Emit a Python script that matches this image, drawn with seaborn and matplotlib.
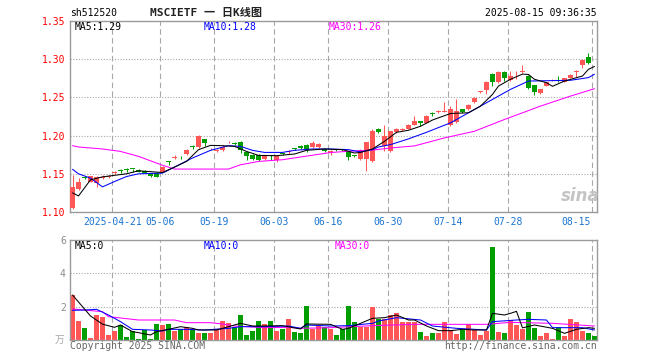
import numpy as np
import pandas as pd
import matplotlib
matplotlib.use('Agg')
import matplotlib.pyplot as plt
import matplotlib.transforms as mtransforms
import seaborn as sns

# ---------------- data ----------------
opens = [1.1057, 1.1299, 1.1455, 1.1399, 1.1382, 1.1441, 1.1458, 1.1512, 1.1545, 1.1558,
         1.1568, 1.1553, 1.1539, 1.1509, 1.1517, 1.1526, 1.1662, 1.1712, 1.1712, 1.1763,
         1.1858, 1.1846, 1.1954, 1.1820, 1.1800, 1.1807, 1.1913, 1.1904, 1.1921, 1.1786,
         1.1750, 1.1750, 1.1693, 1.1740, 1.1684, 1.1772, 1.1789, 1.1832, 1.1868, 1.1882,
         1.1849, 1.1855, 1.1829, 1.1770, 1.1818, 1.1818, 1.1793, 1.1740, 1.1691, 1.1697,
         1.1671, 1.2092, 1.1859, 1.1793, 1.2043, 1.2075, 1.2088, 1.2145, 1.2188, 1.2167,
         1.2288, 1.2316, 1.2316, 1.2145, 1.2180, 1.2342, 1.2351, 1.2443, 1.2570, 1.2596,
         1.2803, 1.2697, 1.2833, 1.2724, 1.2830, 1.2836, 1.2786, 1.2658, 1.2562, 1.2654,
         1.2724, 1.2783, 1.2704, 1.2754, 1.2834, 1.2921, 1.3030, 1.2950]
closes = [1.1333, 1.1399, 1.1448, 1.1467, 1.1454, 1.1464, 1.1466, 1.1520, 1.1538, 1.1550,
          1.1562, 1.1530, 1.1517, 1.1474, 1.1464, 1.1592, 1.1655, 1.1720, 1.1705, 1.1816,
          1.1850, 1.1991, 1.1908, 1.1828, 1.1808, 1.1855, 1.1920, 1.1886, 1.1816, 1.1728,
          1.1697, 1.1684, 1.1741, 1.1733, 1.1733, 1.1766, 1.1796, 1.1825, 1.1838, 1.1816,
          1.1901, 1.1888, 1.1803, 1.1796, 1.1812, 1.1812, 1.1724, 1.1733, 1.1816, 1.1917,
          1.2066, 1.2049, 1.2000, 1.2057, 1.2092, 1.2082, 1.2145, 1.2188, 1.2167, 1.2254,
          1.2282, 1.2323, 1.2323, 1.2351, 1.2320, 1.2307, 1.2399, 1.2496, 1.2578, 1.2707,
          1.2697, 1.2833, 1.2750, 1.2783, 1.2838, 1.2842, 1.2618, 1.2570, 1.2605, 1.2697,
          1.2730, 1.2776, 1.2754, 1.2796, 1.2840, 1.2993, 1.2947, 1.2947]
highs = [1.1487, 1.1447, 1.1465, 1.1475, 1.1467, 1.1480, 1.1480, 1.1540, 1.1565, 1.1580,
         1.1568, 1.1560, 1.1550, 1.1510, 1.1520, 1.1600, 1.1662, 1.1740, 1.1730, 1.1825,
         1.1880, 1.2013, 1.1960, 1.1835, 1.1820, 1.1880, 1.1935, 1.1910, 1.1930, 1.1790,
         1.1760, 1.1755, 1.1750, 1.1750, 1.1745, 1.1772, 1.1815, 1.1840, 1.1880, 1.1890,
         1.1925, 1.1905, 1.1840, 1.1810, 1.1830, 1.1825, 1.1800, 1.1750, 1.1820, 1.1920,
         1.2092, 1.2105, 1.2145, 1.2065, 1.2100, 1.2095, 1.2150, 1.2263, 1.2190, 1.2267,
         1.2312, 1.2335, 1.2443, 1.2386, 1.2483, 1.2350, 1.2410, 1.2509, 1.2590, 1.2715,
         1.2815, 1.2840, 1.2840, 1.2846, 1.2850, 1.2921, 1.2795, 1.2665, 1.2610, 1.2705,
         1.2740, 1.2783, 1.2760, 1.2800, 1.2855, 1.3000, 1.3086, 1.2950]
lows = [1.1039, 1.1289, 1.1435, 1.1390, 1.1333, 1.1430, 1.1450, 1.1500, 1.1510, 1.1520,
        1.1520, 1.1520, 1.1510, 1.1460, 1.1455, 1.1520, 1.1610, 1.1690, 1.1690, 1.1750,
        1.1820, 1.1840, 1.1868, 1.1815, 1.1785, 1.1795, 1.1900, 1.1880, 1.1776, 1.1680,
        1.1680, 1.1670, 1.1680, 1.1675, 1.1660, 1.1750, 1.1765, 1.1810, 1.1820, 1.1785,
        1.1840, 1.1840, 1.1790, 1.1750, 1.1800, 1.1800, 1.1675, 1.1720, 1.1680, 1.1539,
        1.1658, 1.2030, 1.1793, 1.1780, 1.2035, 1.2065, 1.2080, 1.2140, 1.2132, 1.2160,
        1.2254, 1.2300, 1.2310, 1.2132, 1.2170, 1.2290, 1.2340, 1.2430, 1.2555, 1.2539,
        1.2649, 1.2690, 1.2714, 1.2720, 1.2737, 1.2820, 1.2605, 1.2526, 1.2539, 1.2645,
        1.2715, 1.2697, 1.2700, 1.2750, 1.2763, 1.2891, 1.2940, 1.2947]
volumes = [2.7, 1.16, 0.74, 0.14, 1.5, 1.4, 0.3, 0.55, 0.88, 0.2,
           0.56, 0.07, 0.58, 0.07, 0.96, 0.92, 0.96, 0.56, 0.66, 0.76,
           0.62, 0.44, 0.44, 0.44, 0.64, 1.14, 1.0, 0.76, 1.5, 0.3,
           0.55, 1.16, 0.96, 1.14, 0.56, 0.64, 1.26, 0.48, 0.42, 2.04,
           0.68, 0.84, 0.76, 0.68, 0.3, 0.66, 2.04, 1.08, 0.8, 0.8,
           1.96, 1.24, 1.24, 1.5, 1.6, 1.08, 1.08, 1.08, 0.48, 0.24,
           0.4, 0.4, 1.08, 0.6, 0.36, 0.6, 0.94, 0.6, 0.3, 0.56,
           5.6, 0.48, 0.42, 1.2, 0.9, 0.66, 1.7, 0.74, 0.24, 0.42,
           0.06, 0.8, 0.24, 1.26, 1.1, 0.56, 0.42, 0.24]

# moving-average lines (index, value)
ma5_idx = [0, 1, 3, 5, 9, 11, 15, 17, 19, 21, 23, 25, 27, 29, 31, 34, 37, 39, 42, 45, 47, 48,
           50, 52, 54, 56, 58, 60, 63, 66, 68, 70, 71, 73, 75, 76, 77, 79, 80, 82, 85, 86, 87]
ma5_val = [1.1250, 1.1210, 1.1421, 1.1460, 1.1500, 1.1539, 1.1517, 1.1588, 1.1662, 1.1816,
           1.1872, 1.1868, 1.1859, 1.1793, 1.1741, 1.1737, 1.1759, 1.1807, 1.1825, 1.1816,
           1.1772, 1.1780, 1.1825, 1.1925, 1.2043, 1.2070, 1.2122, 1.2204, 1.2289, 1.2299,
           1.2386, 1.2539, 1.2649, 1.2737, 1.2805, 1.2800, 1.2737, 1.2693, 1.2645, 1.2714,
           1.2780, 1.2868, 1.2905]
ma10_idx = [0, 1, 3, 5, 7, 9, 11, 15, 17, 20, 23, 26, 28, 30, 32, 35, 37, 40, 43, 46, 48, 50,
            51, 53, 56, 59, 63, 68, 73, 76, 83, 86, 87]
ma10_val = [1.1559, 1.1500, 1.1443, 1.1329, 1.1399, 1.1464, 1.1500, 1.1509, 1.1588, 1.1707,
            1.1807, 1.1868, 1.1859, 1.1807, 1.1780, 1.1780, 1.1807, 1.1825, 1.1825, 1.1816,
            1.1786, 1.1816, 1.1851, 1.1882, 1.1957, 1.2043, 1.2167, 1.2386, 1.2605, 1.2714,
            1.2724, 1.2759, 1.2803]
ma30_idx = [0, 1, 5, 8, 11, 15, 17, 26, 28, 31, 35, 38, 43, 46, 50, 53, 57, 62, 67, 72, 78, 83, 87]
ma30_val = [1.1868, 1.1851, 1.1825, 1.1793, 1.1728, 1.1612, 1.1562, 1.1562, 1.1618, 1.1662,
            1.1684, 1.1720, 1.1778, 1.1795, 1.1810, 1.1838, 1.1865, 1.1970, 1.2057, 1.2211,
            1.2386, 1.2517, 1.2614]

vma5_idx = [0, 3, 5, 7, 8, 10, 11, 13, 14, 16, 18, 20, 21, 24, 27, 28, 30, 32, 35, 38, 39, 43,
            45, 46, 48, 50, 52, 54, 56, 57, 59, 61, 63, 65, 67, 69, 70, 72, 73, 74, 75, 77,
            80, 82, 84, 86, 87]
vma5_val = [2.7, 1.44, 0.95, 0.76, 0.9, 0.5, 0.44, 0.3, 0.5, 0.64, 0.8, 0.7, 0.6, 0.6, 0.9,
            1.0, 0.84, 0.84, 0.86, 0.66, 0.96, 0.94, 0.64, 0.7, 1.0, 1.3, 1.34, 1.5, 1.2, 1.2,
            0.84, 0.56, 0.56, 0.64, 0.6, 0.6, 1.6, 1.5, 1.6, 1.72, 0.73, 0.9, 0.7, 0.4, 0.64,
            0.74, 0.7]
vma10_idx = [0, 2, 4, 6, 8, 10, 13, 15, 16, 19, 22, 26, 28, 32, 36, 38, 39, 43, 46, 50, 51,
             54, 58, 60, 64, 69, 70, 74, 76, 79, 80, 85, 87]
vma10_val = [1.78, 1.8, 1.84, 1.5, 1.1, 0.64, 0.6, 0.54, 0.64, 0.64, 0.6, 0.7, 0.8, 0.8, 0.84,
             0.7, 0.9, 0.84, 0.86, 1.0, 1.14, 1.34, 1.2, 0.84, 0.7, 0.6, 1.1, 1.2, 1.24, 1.2,
             0.74, 0.74, 0.6]
vma30_idx = [0, 5, 6, 11, 17, 19, 23, 25, 27, 32, 36, 38, 43, 50, 57, 69, 73, 80, 87]
vma30_val = [1.86, 1.7, 1.4, 1.2, 1.2, 1.04, 1.04, 0.96, 0.84, 0.74, 0.76, 0.7, 0.74, 0.86,
             0.94, 0.94, 1.06, 1.0, 0.84]

date_labels = ['2025-04-21', '05-06', '05-19', '06-03', '06-16', '06-30', '07-14', '07-28', '08-15']
date_index = [7, 15, 24, 34, 43, 53, 63, 73, 87]
price_ticks = [1.10, 1.15, 1.20, 1.25, 1.30, 1.35]
price_tick_labels = ['1.10', '1.15', '1.20', '1.25', '1.30', '1.35']
vol_ticks = [2, 4, 6]
vol_tick_labels = ['2', '4', '6']

# ---------------- style ----------------
RED = '#ff5656'
GREEN = '#009e00'
GRID = '#a8a8a8'
FRAME = '#9a9a9a'
DATEC = '#1a74d0'
LW = 0.75

sns.set_theme(style='white')
plt.rcParams['font.family'] = ['DejaVu Sans Mono', 'Noto Sans CJK SC']

W, H = 660, 360
fig = plt.figure(figsize=(6.6, 3.6), dpi=100)
fig.patch.set_facecolor('white')
ax1 = fig.add_axes([70 / W, (H - 212) / H, 527 / W, 191 / H])
ax2 = fig.add_axes([70 / W, (H - 340) / H, 527 / W, 100 / H])

o = np.array(opens); c = np.array(closes); hi = np.array(highs); lo = np.array(lows)
idx = np.arange(len(o))
up = c >= o
cols = np.where(up, RED, GREEN)
XL = (-0.42, 87.42)

# ---------------- frames & grid ----------------
for ax in (ax1, ax2):
    ax.set_facecolor('white')
    for s in ax.spines.values():
        s.set_color(FRAME)
        s.set_linewidth(1.0)
    for di in date_index:
        ax.axvline(di - 0.38, color=GRID, lw=0.8, ls=(0, (5, 3)), zorder=0)

for yv in [1.15, 1.20, 1.25, 1.30]:
    ax1.axhline(yv, color=GRID, lw=0.8, ls=(0, (1, 1.5)), zorder=0)

# ---------------- candles ----------------
ax1.vlines(idx, lo, hi, colors=cols, lw=LW, zorder=2)
body_h = np.maximum(np.abs(c - o), 0.0009)
mid = (c + o) / 2
ax1.bar(idx, body_h, bottom=mid - body_h / 2, width=0.74, color=cols, linewidth=0, zorder=3)

sns.lineplot(x=ma30_idx, y=ma30_val, ax=ax1, color='#ff00ff', lw=LW, estimator=None, sort=False, zorder=4)
sns.lineplot(x=ma10_idx, y=ma10_val, ax=ax1, color='#0000ff', lw=LW, estimator=None, sort=False, zorder=4)
sns.lineplot(x=ma5_idx, y=ma5_val, ax=ax1, color='black', lw=LW, estimator=None, sort=False, zorder=4)

ax1.set_xlim(*XL)
ax1.set_ylim(1.10, 1.35)
ax1.set_yticks(price_ticks)
ax1.set_yticklabels(price_tick_labels, color='#ff0000', fontsize=7)
ax1.tick_params(axis='y', length=0, pad=3)
ax1.set_xticks([])
ax1.set_xlabel(''); ax1.set_ylabel('')

trans = mtransforms.blended_transform_factory(ax1.transData, ax1.transAxes)
for lab, di in zip(date_labels, date_index):
    if di == date_index[-1]:
        ax1.text(di - 0.55, -0.051, lab, transform=trans, ha='right', va='center', fontsize=7, color=DATEC)
    else:
        ax1.text(di - 0.38, -0.051, lab, transform=trans, ha='center', va='center', fontsize=7, color=DATEC)

# ---------------- volume panel ----------------
for yv in [2, 4]:
    ax2.axhline(yv, color=GRID, lw=0.8, ls=(0, (1, 1.5)), zorder=0)

vdf = pd.DataFrame({'i': idx, 'v': volumes, 'd': np.where(up, 'up', 'down')})
sns.barplot(data=vdf, x='i', y='v', hue='d', palette={'up': RED, 'down': GREEN}, dodge=False,
            native_scale=True, width=0.74, legend=False, ax=ax2, saturation=1, errorbar=None,
            linewidth=0, zorder=2)

sns.lineplot(x=vma30_idx, y=vma30_val, ax=ax2, color='#ff00ff', lw=LW, estimator=None, sort=False, zorder=4)
sns.lineplot(x=vma10_idx, y=vma10_val, ax=ax2, color='#0000ff', lw=LW, estimator=None, sort=False, zorder=4)
sns.lineplot(x=vma5_idx, y=vma5_val, ax=ax2, color='black', lw=LW, estimator=None, sort=False, zorder=4)

ax2.set_xlim(*XL)
ax2.set_ylim(0, 6)
ax2.set_yticks(vol_ticks)
ax2.set_yticklabels(vol_tick_labels, color='#8a8a8a', fontsize=7)
ax2.tick_params(axis='y', length=0, pad=3)
ax2.set_xticks([])
ax2.set_xlabel(''); ax2.set_ylabel('')

# ---------------- texts ----------------
def ftext(x, y, s, **kw):
    fig.text(x / W, 1 - y / H, s, va='center', **kw)

ftext(70, 13, 'sh512520', fontsize=7, color='black')
ftext(150, 13, 'MSCIETF 一 日K线图', fontsize=8, color='#222222', fontweight='bold')
ftext(597, 13, '2025-08-15 09:36:35', fontsize=7, color='black', ha='right')

ftext(75, 26.5, 'MA5:1.29', fontsize=7, color='black')
ftext(204, 26.5, 'MA10:1.28', fontsize=7, color='#0000ff')
ftext(329, 26.5, 'MA30:1.26', fontsize=7, color='#ff00ff')

ftext(75, 246, 'MA5:0', fontsize=7, color='black')
ftext(204, 246, 'MA10:0', fontsize=7, color='#0000ff')
ftext(335, 246, 'MA30:0', fontsize=7, color='#ff00ff')

ftext(70, 346, 'Copyright 2025 SINA.COM', fontsize=7, color='#666666')
ftext(597, 346, 'http://finance.sina.com.cn', fontsize=7, color='#666666', ha='right')
ftext(64, 340, '万', fontsize=7, color='#a8a8a8', ha='right')

ftext(580, 196, 'sina', fontsize=12, color='#c4c4c4', ha='center', fontweight='bold', fontstyle='italic',
      family=['DejaVu Sans'])

fig.savefig('out.png', dpi=100, facecolor='white')
